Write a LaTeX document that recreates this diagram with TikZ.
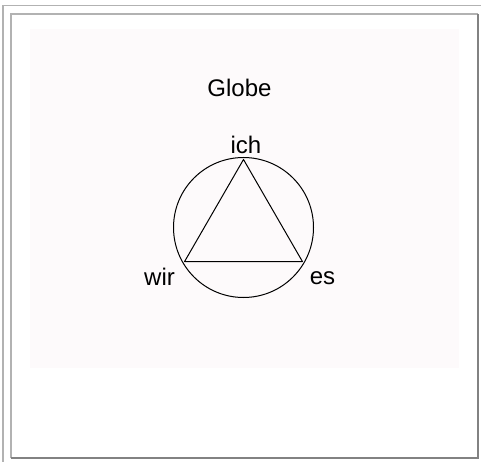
\documentclass[tikz,border=0pt]{standalone}
\usepackage{fontspec}
\setmainfont{Liberation Sans}
\usetikzlibrary{positioning}
\definecolor{framegray}{RGB}{178,178,178}
\definecolor{framedark}{RGB}{130,130,130}
\definecolor{panelpink}{RGB}{253,250,251}

\begin{document}
\begin{tikzpicture}[x=1pt, y=-1pt,
    wordlabel/.style={font=\fontsize{24}{28}\selectfont, inner sep=0pt, anchor=base},
    globe/.style={draw, circle, minimum size=140pt, inner sep=0pt, line width=1pt},
    edge/.style={line width=1pt, line join=round}
]
  \useasboundingbox (0,0) rectangle (481,462);
  % Frame and panel
  \draw[framegray, line width=1.6pt] (3,462) -- (3,5.5) -- (481,5.5);
  \draw[framegray, line width=1.2pt] (11,458) -- (11,14) -- (478,14);
  \draw[framedark, line width=1.2pt] (478,14) -- (478,458) -- (11,458);
  \fill[panelpink] (30,29) rectangle (459,368);

  % Nodes
  \node (title) [wordlabel] at (239.5,97) {Globe};
  \node (circ) [globe] at (243.5,227.5) {};
  \coordinate (ichpt) at (243.5,159.5);
  \coordinate (wirpt) at (184.6,261.5);
  \coordinate (espt) at (302.4,261.5);
  \node (ich) [wordlabel] at (246,154) {ich};
  \node (wir) [wordlabel] at (159.5,285) {wir};
  \node (es) [wordlabel] at (322.5,284) {es};

  % Triangle
  \draw [edge] (ichpt) -- (wirpt) -- (espt) -- cycle;
\end{tikzpicture}
\end{document}
